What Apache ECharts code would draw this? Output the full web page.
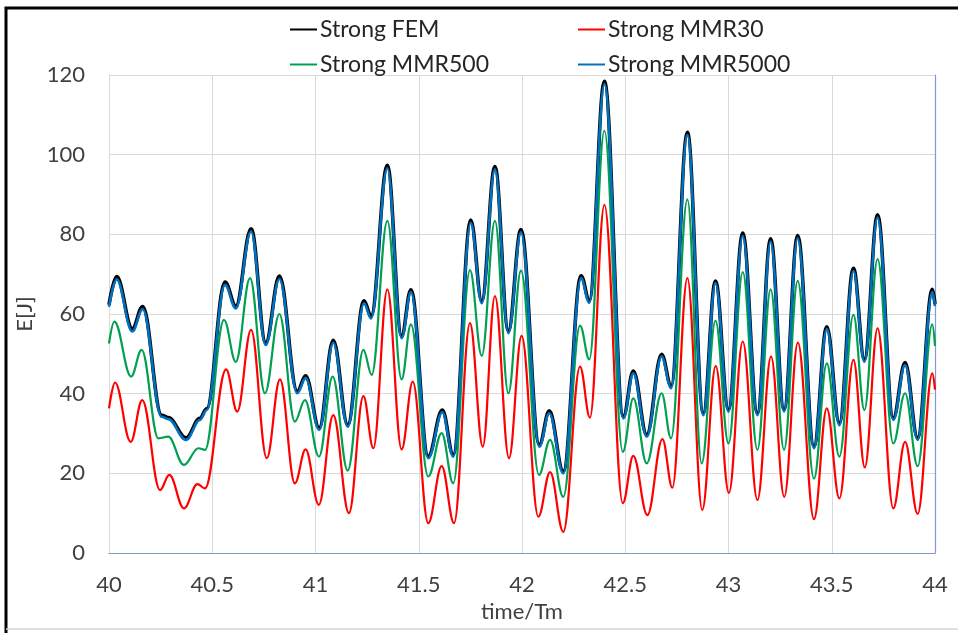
<!DOCTYPE html>
<html>
<head>
<meta charset="utf-8">
<script src="https://cdn.jsdelivr.net/npm/echarts@6/dist/echarts.min.js"></script>
<style>
  html, body { margin: 0; padding: 0; background: #ffffff; }
  #chart { width: 958px; height: 633px; }
</style>
</head>
<body>
<div id="chart"></div>
<script>
// Axis ticks
const timeTicks = [40, 40.5, 41, 41.5, 42, 42.5, 43, 43.5, 44];
const energyTicks = [0, 20, 40, 60, 80, 100, 120];

// Strong FEM (turning points of the energy signal)
const femTime = [40.000, 40.037, 40.113, 40.163, 40.255, 40.287, 40.373, 40.440, 40.473, 40.562, 40.614, 40.688, 40.759, 40.825, 40.912, 40.952,
  41.018, 41.086, 41.156, 41.235, 41.269, 41.348, 41.417, 41.462, 41.546, 41.614, 41.667, 41.752, 41.805, 41.869, 41.934, 41.995,
  42.084, 42.132, 42.200, 42.286, 42.326, 42.399, 42.491, 42.539, 42.604, 42.676, 42.722, 42.801, 42.878, 42.937,
  43.000, 43.069, 43.140, 43.204, 43.269, 43.335, 43.414, 43.476, 43.537, 43.605, 43.658, 43.722, 43.798, 43.855, 43.916, 43.987, 44.000];
const femE = [62.3, 69.4, 56.3, 61.9, 34.6, 34.0, 28.9, 33.8, 36.2, 68.0, 62.0, 81.4, 52.8, 69.5, 40.6, 44.5,
  31.4, 53.4, 32.2, 63.3, 59.5, 97.3, 54.5, 66.1, 24.3, 35.9, 24.7, 83.6, 63.3, 97.0, 55.8, 81.2,
  27.2, 35.7, 20.5, 69.6, 63.4, 118.4, 34.3, 45.7, 29.7, 49.9, 42.0, 105.6, 35.1, 68.3,
  36.0, 80.3, 35.1, 78.9, 36.0, 79.7, 26.8, 56.8, 32.6, 71.5, 48.6, 84.9, 33.9, 47.8, 28.9, 66.2, 62.5];

// Strong MMR30
const mmr30Time = [40.000, 40.029, 40.105, 40.161, 40.247, 40.292, 40.363, 40.428, 40.465, 40.567, 40.621, 40.688, 40.764, 40.828, 40.900, 40.952,
  41.016, 41.086, 41.162, 41.232, 41.280, 41.348, 41.417, 41.471, 41.546, 41.611, 41.671, 41.748, 41.810, 41.869, 41.937, 41.998,
  42.079, 42.136, 42.200, 42.281, 42.329, 42.399, 42.488, 42.539, 42.607, 42.680, 42.728, 42.801, 42.873, 42.938,
  43.002, 43.069, 43.140, 43.206, 43.270, 43.336, 43.414, 43.476, 43.537, 43.605, 43.660, 43.722, 43.798, 43.855, 43.916, 43.987, 44.000];
const mmr30E = [36.3, 42.8, 27.9, 38.4, 15.8, 19.6, 11.2, 17.3, 16.2, 46.1, 35.5, 56.0, 23.8, 43.6, 17.5, 26.0,
  12.1, 34.6, 10.0, 39.4, 26.3, 66.2, 26.0, 43.0, 7.5, 21.8, 7.5, 57.7, 26.7, 64.5, 23.8, 54.5,
  9.1, 20.3, 5.3, 46.8, 34.0, 87.4, 12.5, 24.4, 9.5, 28.6, 16.4, 69.0, 10.8, 46.9,
  15.1, 53.1, 13.3, 49.3, 14.1, 52.8, 8.5, 36.3, 13.7, 48.5, 21.5, 56.4, 11.2, 27.9, 9.8, 45.1, 41.0];

// Strong MMR500
const mmr500Time = [40.000, 40.026, 40.107, 40.158, 40.239, 40.287, 40.363, 40.433, 40.465, 40.557, 40.614, 40.683, 40.755, 40.825, 40.900, 40.949,
  41.017, 41.083, 41.156, 41.232, 41.272, 41.348, 41.417, 41.462, 41.546, 41.611, 41.667, 41.748, 41.805, 41.869, 41.934, 41.995,
  42.082, 42.136, 42.200, 42.281, 42.326, 42.399, 42.488, 42.539, 42.604, 42.676, 42.722, 42.801, 42.870, 42.937,
  43.000, 43.069, 43.140, 43.204, 43.269, 43.335, 43.414, 43.476, 43.537, 43.605, 43.658, 43.722, 43.798, 43.855, 43.916, 43.987, 44.000];
const mmr500E = [52.6, 58.1, 44.3, 51.0, 28.8, 29.2, 22.1, 26.3, 25.9, 58.5, 48.0, 69.0, 40.1, 60.0, 33.0, 38.4,
  24.2, 44.3, 20.7, 51.0, 44.7, 83.4, 43.6, 57.4, 19.2, 30.1, 17.5, 71.0, 49.5, 83.4, 40.1, 70.9,
  19.6, 28.4, 14.1, 57.1, 48.6, 106.0, 25.4, 38.8, 22.5, 40.1, 28.8, 88.8, 22.5, 58.3,
  27.5, 70.5, 25.9, 66.2, 25.9, 68.3, 18.7, 47.6, 24.2, 59.8, 35.9, 73.8, 27.5, 40.1, 21.8, 57.4, 52.0];

// Strong MMR5000
const mmr5000Time = femTime;
const mmr5000E = [61.8, 68.7, 55.6, 61.2, 34.2, 33.6, 28.4, 33.4, 35.9, 67.3, 61.4, 80.7, 52.2, 68.8, 40.1, 43.9,
  30.9, 52.8, 31.7, 62.7, 58.9, 96.6, 53.9, 65.5, 23.8, 35.3, 24.2, 82.9, 62.7, 96.3, 55.2, 80.5,
  26.7, 35.1, 20.0, 69.0, 62.8, 117.7, 33.8, 45.1, 29.2, 49.3, 41.4, 104.9, 34.6, 67.7,
  35.5, 79.6, 34.6, 78.2, 35.5, 79.0, 26.3, 56.2, 32.1, 70.8, 48.0, 84.2, 33.4, 47.2, 28.4, 65.5, 62.0];

const pairs = (xs, ys) => xs.map((x, i) => [x, ys[i]]);

const FONT = 'Lato, "Open Sans", sans-serif';
const GRID_GRAY = '#d9d9d9';
const FRAME_BLUE = '#7f9bcf';

const chart = echarts.init(document.getElementById('chart'), null, { renderer: 'canvas' });

function lineSeries(name, data, color, width, z) {
  return {
    name: name,
    type: 'line',
    data: data,
    xAxisIndex: 0,
    yAxisIndex: 0,
    showSymbol: false,
    symbol: 'none',
    smooth: 0.38,
    smoothMonotone: 'x',
    color: color,
    lineStyle: { color: color, width: width },
    z: z,
    animation: false
  };
}

const legendCommon = {
  orient: 'vertical',
  top: 13,
  icon: 'rect',
  itemWidth: 27,
  itemHeight: 2,
  itemGap: 12,
  textStyle: { fontFamily: FONT, fontSize: 23, color: '#262626', padding: [0, 0, 0, -2] }
};

chart.setOption({
  animation: false,
  backgroundColor: '#ffffff',
  legend: [
    Object.assign({}, legendCommon, { left: 285, data: ['Strong FEM', 'Strong MMR500'] }),
    Object.assign({}, legendCommon, { left: 573, data: ['Strong MMR30', 'Strong MMR5000'] })
  ],
  grid: {
    left: 109, right: 23, top: 75, bottom: 80,
    containLabel: false,
    outerBoundsMode: 'none'
  },
  xAxis: [{
    type: 'value',
    min: timeTicks[0],
    max: timeTicks[timeTicks.length - 1],
    interval: timeTicks[1] - timeTicks[0],
    name: 'time/Tm',
    nameLocation: 'middle',
    nameGap: 44,
    nameTextStyle: { fontFamily: FONT, fontSize: 22, color: '#404040' },
    axisLine: { show: true, lineStyle: { color: GRID_GRAY, width: 1 } },
    axisTick: { show: false },
    axisLabel: { fontFamily: FONT, fontSize: 22, color: '#404040', margin: 21 },
    splitLine: { show: true, lineStyle: { color: GRID_GRAY, width: 1 } }
  }, {
    type: 'value',
    position: 'top',
    min: timeTicks[0],
    max: timeTicks[timeTicks.length - 1],
    axisLine: { show: true, lineStyle: { color: FRAME_BLUE, width: 1.2 } },
    axisTick: { show: false },
    axisLabel: { show: false },
    splitLine: { show: false }
  }],
  yAxis: [{
    type: 'value',
    min: energyTicks[0],
    max: energyTicks[energyTicks.length - 1],
    interval: energyTicks[1] - energyTicks[0],
    name: 'E[J]',
    nameLocation: 'middle',
    nameGap: 72,
    nameTextStyle: { fontFamily: FONT, fontSize: 22, color: '#404040' },
    axisLine: { show: true, lineStyle: { color: GRID_GRAY, width: 1 } },
    axisTick: { show: false },
    axisLabel: { fontFamily: FONT, fontSize: 22, color: '#404040', margin: 24 },
    splitLine: { show: true, lineStyle: { color: GRID_GRAY, width: 1 } }
  }, {
    type: 'value',
    position: 'right',
    min: energyTicks[0],
    max: energyTicks[energyTicks.length - 1],
    axisLine: { show: true, lineStyle: { color: FRAME_BLUE, width: 1.2 } },
    axisTick: { show: false },
    axisLabel: { show: false },
    splitLine: { show: false }
  }],
  graphic: [{
    type: 'polyline',
    shape: { points: [[6, 633], [6, 8], [958, 8]] },
    style: { stroke: '#000000', lineWidth: 3, fill: null },
    silent: true
  }, {
    type: 'line',
    shape: { x1: 6, y1: 629, x2: 958, y2: 629 },
    style: { stroke: '#d4d4d4', lineWidth: 1.5 },
    silent: true
  }],
  series: [
    lineSeries('Strong FEM', pairs(femTime, femE), '#000000', 3.6, 2),
    lineSeries('Strong MMR30', pairs(mmr30Time, mmr30E), '#ff0000', 2.2, 3),
    lineSeries('Strong MMR500', pairs(mmr500Time, mmr500E), '#00a050', 2.2, 4),
    lineSeries('Strong MMR5000', pairs(mmr5000Time, mmr5000E), '#0070c0', 2.6, 5)
  ]
});
</script>
</body>
</html>
